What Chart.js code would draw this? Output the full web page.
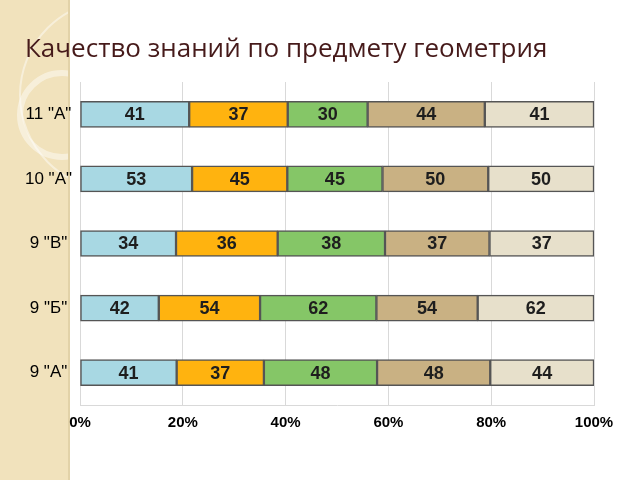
<!DOCTYPE html>
<html>
<head>
<meta charset="utf-8">
<script src="https://cdn.jsdelivr.net/npm/chart.js@4"></script>
<style>
  html, body { margin: 0; padding: 0; background: #fff; }
  #wrap { position: relative; width: 640px; height: 480px; }
  #band { position: absolute; left: 0; top: 0; width: 70px; height: 480px; }
  #title {
    position: absolute; left: 25px; top: 29px; margin: 0;
    font: 26px "Open Sans", sans-serif; font-weight: normal;
    color: #461a1a; white-space: nowrap;
  }
  canvas { position: absolute; left: 0; top: 0; }
</style>
</head>
<body>
<div id="wrap">
  <canvas id="band" width="70" height="480"></canvas>
  <canvas id="chart" width="640" height="480"></canvas>
  <h1 id="title">Качество знаний по предмету геометрия</h1>
</div>
<script>
const categories = ['11 "А"', '10 "А"', '9 "В"', '9 "Б"', '9 "А"'];
const part1 = [41, 53, 34, 42, 41];
const part2 = [37, 45, 36, 54, 37];
const part3 = [30, 45, 38, 62, 48];
const part4 = [44, 50, 37, 54, 48];
const part5 = [41, 50, 37, 62, 44];
const colors = ['#a8d8e3', '#ffb30f', '#85c667', '#c9b183', '#e7e0cb'];
const xTicks = [0, 20, 40, 60, 80, 100];

const parts = [part1, part2, part3, part4, part5];
const totals = categories.map((c, i) => parts.reduce((s, p) => s + p[i], 0));

// decorative strip on the left
const bctx = document.getElementById('band').getContext('2d');
bctx.fillStyle = '#f1e2bc';
bctx.fillRect(0, 0, 70, 480);
bctx.strokeStyle = 'rgba(255,255,255,0.45)';
bctx.lineWidth = 6;
bctx.beginPath(); bctx.arc(62, 115, 42, 0, Math.PI * 2); bctx.stroke();
bctx.lineWidth = 2;
bctx.beginPath(); bctx.arc(115, 95, 95, 0, Math.PI * 2); bctx.stroke();
bctx.fillStyle = '#e2d2a8';
bctx.fillRect(68, 0, 2, 480);

const valueLabels = {
    id: 'valueLabels',
    afterDatasetsDraw(chart) {
        const { ctx } = chart;
        ctx.save();
        ctx.font = 'bold 18px Arial';
        ctx.fillStyle = '#1e1e1e';
        ctx.textAlign = 'center';
        ctx.textBaseline = 'middle';
        chart.data.datasets.forEach((ds, d) => {
            chart.getDatasetMeta(d).data.forEach((el, i) => {
                ctx.fillText(parts[d][i], (el.x + el.base) / 2, el.y + 1);
            });
        });
        ctx.restore();
    }
};

new Chart(document.getElementById('chart'), {
    type: 'bar',
    data: {
        labels: categories,
        datasets: parts.map((p, d) => ({
            data: p.map((v, i) => v / totals[i] * 100),
            backgroundColor: colors[d],
            borderColor: '#555',
            borderWidth: 1.5,
            borderSkipped: false,
            barThickness: 26
        }))
    },
    options: {
        indexAxis: 'y',
        responsive: false,
        animation: false,
        layout: { padding: { top: 82, right: 46, left: 0, bottom: 0 } },
        plugins: { legend: { display: false }, tooltip: { enabled: false } },
        scales: {
            x: {
                stacked: true, min: 0, max: 100,
                afterBuildTicks(scale) { scale.ticks = xTicks.map(v => ({ value: v })); },
                afterFit(scale) { scale.height = 75; },
                grid: { color: '#d9d9d9', drawTicks: false },
                border: { color: '#d9d9d9' },
                ticks: {
                    padding: 9, color: '#000',
                    font: { family: 'Arial', size: 15, weight: 'bold' },
                    callback: v => v + '%'
                }
            },
            y: {
                stacked: true,
                afterFit(scale) { scale.width = 80; },
                grid: { display: false },
                border: { color: '#d9d9d9' },
                ticks: {
                    padding: 0, color: '#000', crossAlign: 'center',
                    font: { family: 'Arial', size: 17 }
                }
            }
        }
    },
    plugins: [valueLabels]
});
</script>
</body>
</html>
